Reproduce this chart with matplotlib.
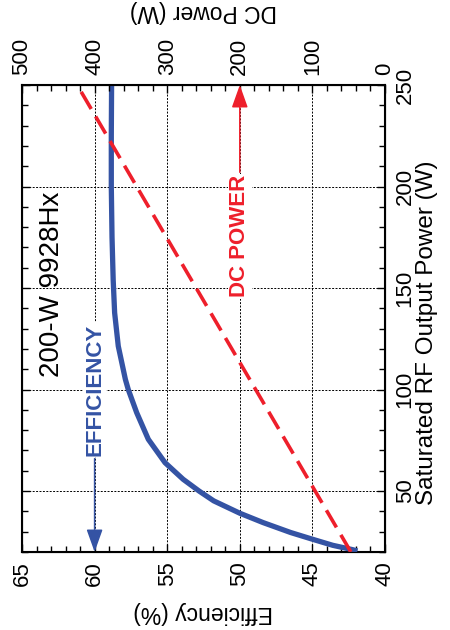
import matplotlib
matplotlib.use("Agg")
import matplotlib.pyplot as plt
from matplotlib.ticker import MultipleLocator, FixedLocator

plt.rcParams["font.family"] = ["Liberation Sans", "DejaVu Sans"]

# Saturated RF output power (W) vs efficiency (%)
rf_eff = [20.5, 21.1, 23.3, 26.3, 29.6, 34.5, 39.1, 45.2, 50.0, 55.8, 64.0,
          75.5, 88.6, 100, 105, 121.4, 137.8, 154, 175, 200, 225, 250]
efficiency = [41.9, 42.2, 43.6, 45.0, 46.5, 48.4, 50.0, 51.8, 52.8, 53.9, 55.15,
              56.3, 57.1, 57.68, 57.88, 58.37, 58.62, 58.72, 58.8, 58.85, 58.85, 58.83]

# DC power (W) - straight dashed line
rf_dc = [20, 250]
dc_power = [47, 424]

BLUE = "#3453a4"
RED = "#ee1f2b"

fig = plt.figure(figsize=(4.5, 6.3), dpi=100)
ax = fig.add_axes([22 / 450, 78 / 630, 363 / 450, 467 / 630])

# the chart is drawn rotated by 90 degrees: efficiency runs right-to-left
# along the bottom, RF power runs bottom-to-top on the right
ax.plot(efficiency, rf_eff, color=BLUE, lw=3.8, solid_capstyle="butt",
        solid_joinstyle="round", zorder=3)
ax.set_xlim(65, 40)
ax.set_ylim(20, 250)
ax.xaxis.set_major_locator(MultipleLocator(5))
ax.xaxis.set_minor_locator(MultipleLocator(1))
ax.yaxis.set_major_locator(FixedLocator([50, 100, 150, 200, 250]))
ax.yaxis.set_minor_locator(MultipleLocator(10))
ax.grid(True, which="major", linestyle=(0, (2, 1.5)), color="black", lw=0.7)
ax.yaxis.tick_right()
ax.tick_params(which="both", direction="in", left=True, right=True,
               top=False, bottom=True, labelleft=False, labelright=True,
               labelsize=16, width=1)
ax.tick_params(which="major", length=6, pad=7)
ax.tick_params(which="minor", length=4)
for lab in ax.get_xticklabels() + ax.get_yticklabels():
    lab.set_rotation(90)
for lab in ax.get_yticklabels():
    lab.set_va("center")
for s in ax.spines.values():
    s.set_linewidth(1.5)

ax.set_xlabel("Efficiency (%)", fontsize=16.5, rotation=180)
ax.xaxis.set_label_coords(0.5, -0.13)
ax.xaxis.label.set_va("center")
ax.yaxis.set_label_position("right")
ax.set_ylabel("Saturated RF Output Power (W)", fontsize=17.5, rotation=90)
ax.yaxis.set_label_coords(1.115, 0.47)
ax.yaxis.label.set_va("center")

ax2 = ax.twiny()
ax2.plot(dc_power, rf_dc, color=RED, lw=2.6, linestyle=(0, (5.5, 2.4)), zorder=2)
ax2.set_xlim(500, 0)
ax2.xaxis.set_major_locator(MultipleLocator(100))
ax2.xaxis.set_minor_locator(MultipleLocator(20))
ax2.tick_params(which="both", direction="in", top=True, bottom=False,
                labelsize=16, width=1)
ax2.tick_params(which="major", length=6, pad=7)
ax2.tick_params(which="minor", length=4)
for lab in ax2.get_xticklabels():
    lab.set_rotation(90)
ax2.set_xlabel("DC Power (W)", fontsize=16.5, rotation=180)
ax2.xaxis.set_label_coords(0.5, 1.158)
ax2.xaxis.label.set_va("center")

# annotations
ax.text(62.9, 152, "200-W 9928Hx", fontsize=20, rotation=90,
        ha="center", va="center", zorder=4)
ax.text(60, 100, "EFFICIENCY", fontsize=16, fontweight="bold", color=BLUE,
        rotation=90, ha="center", va="center", zorder=4,
        bbox=dict(fc="white", ec="none", pad=1))
ax.annotate("", xy=(60, 20), xytext=(60, 66), zorder=4,
            arrowprops=dict(arrowstyle="-|>,head_length=0.7,head_width=0.25",
                            mutation_scale=20, color=BLUE, lw=1.1,
                            shrinkA=0, shrinkB=0))
ax2.text(200, 175.5, "DC POWER", fontsize=16, fontweight="bold", color=RED,
         rotation=90, ha="center", va="center", zorder=4,
         bbox=dict(fc="white", ec="none", pad=1))
ax2.annotate("", xy=(200, 250), xytext=(200, 207), zorder=4,
             arrowprops=dict(arrowstyle="-|>,head_length=0.7,head_width=0.25",
                             mutation_scale=20, color=RED, lw=1.1,
                             shrinkA=0, shrinkB=0))

fig.savefig("out.png", dpi=100)
